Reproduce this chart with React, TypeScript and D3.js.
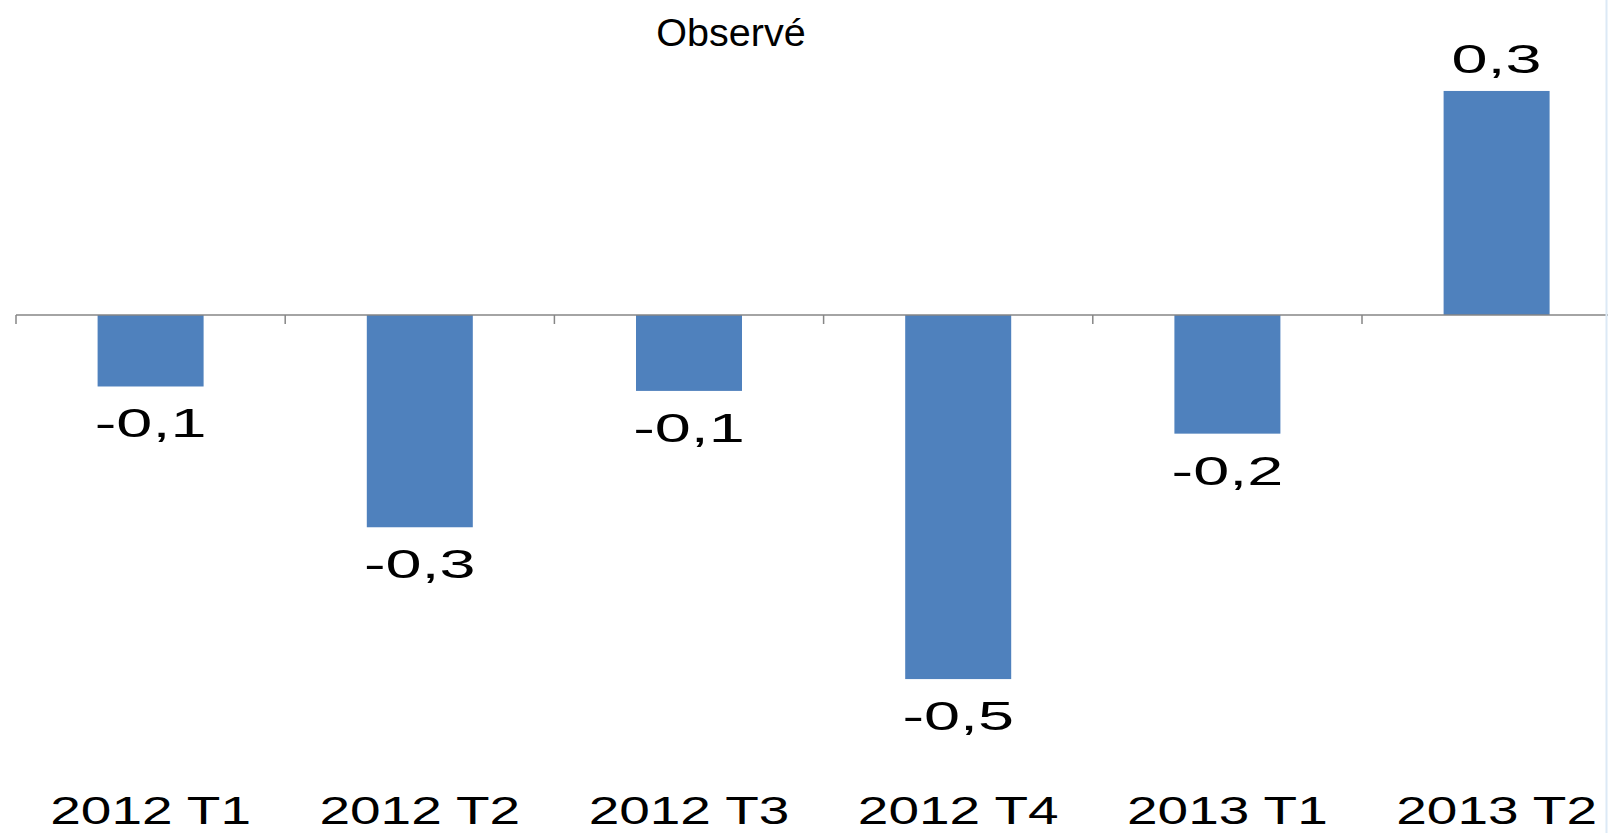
import React from "react";
import * as d3 from "d3";

const categories = ["2012 T1", "2012 T2", "2012 T3", "2012 T4", "2013 T1", "2013 T2"];
const values = [-0.097, -0.288, -0.103, -0.494, -0.161, 0.304];
const title = "Observé";

const W = 1608;
const H = 833;
const FONT = "'Liberation Sans', Arial, sans-serif";

export default function App() {
  const step = 269.2;
  const x0 = 16;
  const x = d3
    .scaleBand<string>()
    .domain([...categories, "__pad"])
    .range([x0, x0 + step * 7])
    .paddingInner(0)
    .paddingOuter(0);
  const barW = 106;
  const y0px = 315;
  const pxPerUnit = 737;
  const y = d3.scaleLinear().domain([0, 1]).range([y0px, y0px - pxPerUnit]);
  const fmt = (v: number) => d3.format(".1f")(v).replace(".", ",").replace("−", "-");
  const y0 = y(0);

  const stretched = (tx: number, ty: number, text: string, size: number, sx: number) => (
    <text
      transform={`translate(${tx},${ty}) scale(${sx},1)`}
      textAnchor="middle"
      fontFamily={FONT}
      fontSize={size}
      fill="#000"
    >
      {text}
    </text>
  );

  return (
    <svg
      width={W}
      height={H}
      style={{ position: "absolute", left: 0, top: 0, background: "#fff" }}
    >
      <rect width={W} height={H} fill="#fff" />
      {stretched(731, 46, title, 38, 1.04)}
      {categories.map((c, i) => {
        const cx = (x(c) as number) + x.bandwidth() / 2;
        const v = values[i];
        const top = Math.min(y(v), y0);
        const h = Math.abs(y(v) - y0);
        return <rect key={c} x={cx - barW / 2} y={top} width={barW} height={h} fill="#4F81BD" />;
      })}
      <line x1={x0} x2={W} y1={y0} y2={y0} stroke="#868686" strokeWidth={1.5} />
      {d3.range(7).map((k) => (
        <line
          key={k}
          x1={x0 + k * step}
          x2={x0 + k * step}
          y1={y0}
          y2={y0 + 9}
          stroke="#868686"
          strokeWidth={1.5}
        />
      ))}
      <line x1={W - 1.5} x2={W - 1.5} y1={0} y2={H} stroke="#dce9f6" strokeWidth={2} />
      {categories.map((c, i) => {
        const cx = (x(c) as number) + x.bandwidth() / 2;
        const v = values[i];
        const ly = v < 0 ? y(v) + 51 : y(v) - 18;
        return (
          <g key={"l" + c}>
            {stretched(cx, ly, fmt(v), 40, 1.62)}
            {stretched(cx, 824, c, 39, 1.41)}
          </g>
        );
      })}
    </svg>
  );
}
